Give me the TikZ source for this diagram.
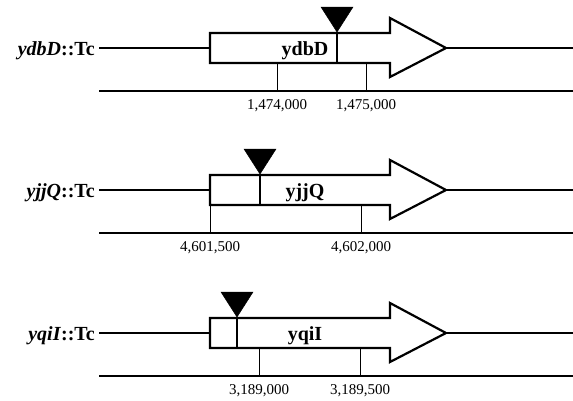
\documentclass[tikz,border=0pt]{standalone}
\usepackage{fontspec}
\setmainfont{Liberation Serif}
\tikzset{
  mainline/.style={line width=2.4pt},
  genebox/.style={draw, line width=2.2pt, fill=white, line join=miter},
  insline/.style={line width=2pt},
  insmark/.style={fill=black, draw=black, line width=0.5pt},
  scaleline/.style={line width=1.3pt},
  tickline/.style={line width=0.9pt},
  leftlab/.style={font=\fontsize{20}{22}\selectfont\bfseries, inner sep=4pt, anchor=base east},
  genelab/.style={font=\fontsize{20}{22}\selectfont\bfseries, inner sep=1pt, anchor=base},
  ticklab/.style={font=\fontsize{15}{17}\selectfont, inner sep=0pt, anchor=base}
}
% #1 id, #2 row centre y, #3 gene, #4 insertion x, #5 tick a x, #6 tick b x, #7 label a, #8 label b
\newcommand{\drawgenerow}[8]{%
  \node[leftlab] (lab#1) at (99,#2+7) {\textit{#3}::Tc};
  \coordinate (boxl#1) at (210,#2);
  \coordinate (tip#1) at (446,#2);
  \coordinate (end#1) at (573,#2);
  \coordinate (sl#1) at (99,#2+43);
  \coordinate (sr#1) at (573,#2+43);
  \draw[mainline] (lab#1.east |- boxl#1) -- (boxl#1);
  \draw[mainline] (tip#1) -- (end#1);
  \draw[genebox] (210,#2-15) -- (390,#2-15) -- (390,#2-30) -- (tip#1) -- (390,#2+29) -- (390,#2+15) -- (210,#2+15) -- cycle;
  \node[genelab] (gene#1) at (305,#2+7) {#3};
  \coordinate (insb#1) at (#4,#2+15);
  \coordinate (inst#1) at (#4,#2-16);
  \draw[insline] (inst#1) -- (insb#1);
  \draw[insmark] (#4-16,#2-41) -- (#4+16,#2-41) -- (inst#1) -- cycle;
  \draw[scaleline] (sl#1) -- (sr#1);
  \coordinate (ta#1) at (#5,#2+15);
  \coordinate (tb#1) at (#6,#2+15);
  \draw[tickline] (ta#1) -- (ta#1 |- sl#1);
  \draw[tickline] (tb#1) -- (tb#1 |- sl#1);
  \node[ticklab] (tla#1) at (#5,#2+61) {#7};
  \node[ticklab] (tlb#1) at (#6,#2+61) {#8};
}
\begin{document}
\begin{tikzpicture}[x=1pt,y=-1pt]
  \useasboundingbox (0,0) rectangle (573,400);
  \drawgenerow{a}{48}{ydbD}{337}{277}{366}{1,474,000}{1,475,000}
  \drawgenerow{b}{190}{yjjQ}{260}{210}{361}{4,601,500}{4,602,000}
  \drawgenerow{c}{333}{yqiI}{237}{259}{360}{3,189,000}{3,189,500}
\end{tikzpicture}
\end{document}
